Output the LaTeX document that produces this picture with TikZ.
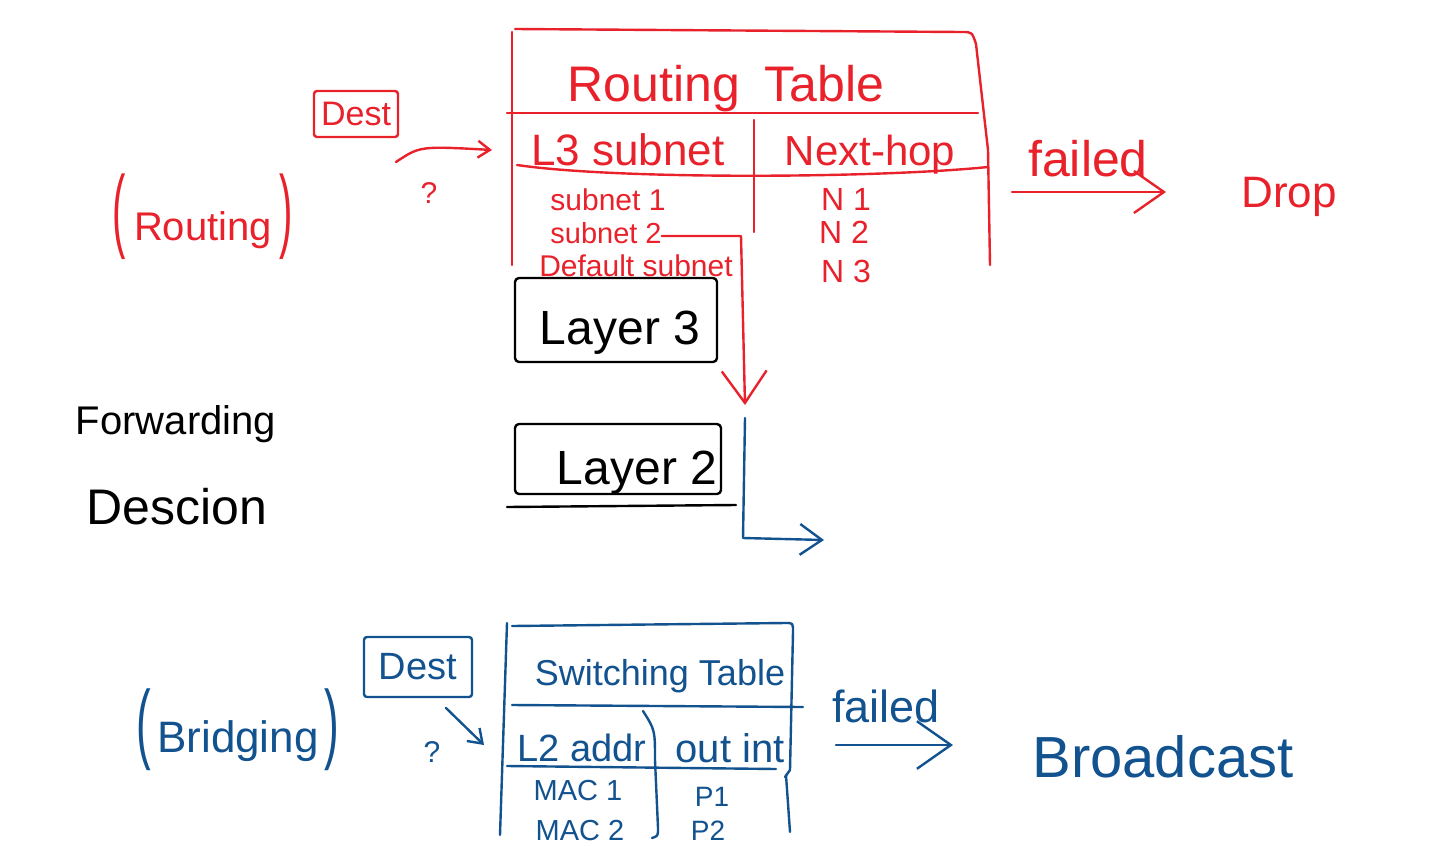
\documentclass[tikz,border=0pt]{standalone}
\usepackage{fontspec}
\usepackage{graphicx}
\setmainfont{Liberation Sans}
\usetikzlibrary{arrows.meta}
\definecolor{pred}{HTML}{E8212B}
\definecolor{pblue}{HTML}{12528F}
\tikzset{
  ink/.style={line width=2.4pt, line cap=round, line join=round},
  redink/.style={ink, draw=pred},
  blueink/.style={ink, draw=pblue},
  blackink/.style={ink, draw=black},
  lbl/.style={inner sep=0pt, anchor=base},
  fs/.style={font=\fontsize{#1}{#1}\selectfont},
  rtxt/.style={lbl, text=pred},
  btxt/.style={lbl, text=pblue},
  ktxt/.style={lbl, text=black},
  barb/.style={-{Straight Barb[length=#1, width=1.4*#1, line width=2.4pt]}},
}
\newcommand{\tallparen}[2]{\scalebox{1}[#1]{#2}}
\begin{document}
\begin{tikzpicture}[x=1pt, y=-1pt]
\useasboundingbox (0,0) rectangle (1435,846);

% ---------------- Routing table (red) ----------------
\draw[redink] (512,265) -- (512,32);
\draw[redink] (515,29) -- (962,32) .. controls (972,32) .. (976,44) -- (988,150) -- (990,265);
\draw[redink] (507,113) -- (978,113);
\draw[redink] (754,120) -- (754,232);
\draw[redink] (517,165) .. controls (620,180) and (880,178) .. (988,167);

\node[rtxt, fs=50] (rtitle) at (726,101) {Routing\hspace{0.5em}Table};
\node[rtxt, fs=44] (l3sub) at (628,165) {L3 subnet};
\node[rtxt, fs=42] (nexthop) at (870,165) {Next-hop};
\node[rtxt, fs=30] (sub1) at (608,210) {subnet 1};
\node[rtxt, fs=29] (sub2) at (606,243) {subnet 2};
\node[rtxt, fs=30] (subd) at (636,276) {Default subnet};
\node[rtxt, fs=32] (n1) at (846,210) {N 1};
\node[rtxt, fs=32] (n2) at (844,243) {N 2};
\node[rtxt, fs=32] (n3) at (846,282) {N 3};

% Dest (red) and arrow
\node[draw=pred, ink, rounded corners=3pt, text=pred, fs=34, minimum width=84pt, minimum height=46pt, inner sep=0pt] (rdest) at (356,114) {Dest};
\coordinate (rqs) at (396,162);
\coordinate (rqt) at (492,150);
\draw[redink, barb=12pt] (rqs) .. controls (420,146) .. (rqt);
\node[rtxt, fs=30] (rq) at (429,203) {?};

% (Routing)
\node[rtxt, fs=40] (routing) at (203,240) {\tallparen{2.3}{(}\hspace{8pt}Routing\hspace{8pt}\tallparen{2.3}{)}};

% failed -> Drop
\node[rtxt, fs=50] (rfailed) at (1088,176) {failed};
\coordinate (rfs) at (1012,192);
\node[rtxt, fs=44] (drop) at (1289,207) {Drop};
\draw[redink, barb=30pt] (rfs) -- (1166,192);

% ---------------- Layers (black) ----------------
\node[blackink, draw, rounded corners=4pt, minimum width=202pt, minimum height=84pt, inner sep=0pt] (l3box) at (616,320) {};
\node[ktxt, fs=48] (l3) at (620,344) {Layer 3};
\node[blackink, draw, rounded corners=4pt, minimum width=206pt, minimum height=70pt, inner sep=0pt] (l2box) at (618,459) {};
\node[ktxt, fs=48] (l2) at (637,484) {Layer 2};
\draw[blackink] (507,507) -- (736,505);

% red arrow from subnet 2 down
\coordinate (rturn) at (741,236);
\coordinate (rtip) at (745,405);
\draw[redink, barb=32pt] (sub2.east |- rturn) -- (rturn) -- (rtip);

% blue arrow right
\coordinate (bstart) at (745,418);
\coordinate (bcorner) at (743,538);
\coordinate (btip) at (824,540);
\draw[blueink, barb=22pt] (bstart) -- (bcorner) -- (btip);

% Forwarding Descion
\node[ktxt, fs=40] (fwd) at (176,434) {Forwarding};
\node[ktxt, fs=50] (desc) at (177,524) {Descion};

% ---------------- Switching table (blue) ----------------
\draw[blueink] (507,623) -- (500,835);
\draw[blueink] (512,626) -- (786,623) .. controls (793,623) .. (793,632) -- (790,770) -- (785,777);
\draw[blueink] (786,775) -- (790,832);
\draw[blueink] (512,705) -- (803,707);
\draw[blueink] (643,711) .. controls (655,730) .. (655,760) -- (658,828) .. controls (658,836) .. (652,838);
\draw[blueink] (507,766) -- (776,769);

\node[btxt, fs=36] (stitle) at (660,685) {Switching Table};
\node[btxt, fs=38] (l2addr) at (582,761) {L2 addr};
\node[btxt, fs=40] (outint) at (730,762) {out int};
\node[btxt, fs=29] (mac1) at (578,800) {MAC 1};
\node[btxt, fs=29] (mac2) at (580,840) {MAC 2};
\node[btxt, fs=28] (p1) at (712,806) {P1};
\node[btxt, fs=28] (p2) at (708,840) {P2};

% Dest (blue)
\node[draw=pblue, ink, rounded corners=3pt, text=pblue, fs=38, minimum width=108pt, minimum height=60pt, inner sep=0pt] (bdest) at (418,667) {Dest};
\coordinate (bqs) at (446,708);
\coordinate (bqt) at (484,745);
\draw[blueink, barb=13pt] (bqs) -- (bqt);
\node[btxt, fs=30] (bq) at (432,762) {?};

% (Bridging)
\node[btxt, fs=44] (bridging) at (238,752) {\tallparen{2.0}{(}\hspace{6pt}Bridging\hspace{6pt}\tallparen{2.0}{)}};

% failed -> Broadcast
\node[btxt, fs=45] (bfailed) at (886,722) {failed};
\coordinate (bfs) at (836,745);
\node[btxt, fs=58] (bcast) at (1163,777) {Broadcast};
\draw[blueink, barb=34pt] (bfs) -- (953,745);

\end{tikzpicture}
\end{document}
